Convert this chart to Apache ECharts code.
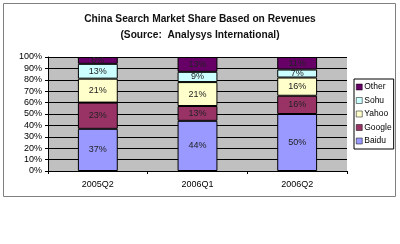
<!DOCTYPE html>
<html><head><meta charset="utf-8">
<script src="https://cdn.jsdelivr.net/npm/echarts@6/dist/echarts.min.js"></script>
<style>html,body{margin:0;padding:0;background:#fff}#c{width:400px;height:244px}</style>
</head><body><div id="c"></div>
<script>
const categories = ['2005Q2', '2006Q1', '2006Q2'];
const baidu = [37, 44, 50];
const google = [23, 13, 16];
const yahoo = [21, 21, 16];
const sohu = [13, 9, 7];
const other = [6, 13, 11];
const yTicks = [0, 10, 20, 30, 40, 50, 60, 70, 80, 90, 100];

const names = ['Baidu', 'Google', 'Yahoo', 'Sohu', 'Other'];
const values = [baidu, google, yahoo, sohu, other];
const colors = ['#9999FF', '#993366', '#FFFFCC', '#CCFFFF', '#660066'];

const chart = echarts.init(document.getElementById('c'));
chart.setOption({
  animation: false,
  textStyle: { fontFamily: 'Liberation Sans, Arial, sans-serif' },
  title: {
    text: 'China Search Market Share Based on Revenues\n(Source:  Analysys International)',
    left: 'center', top: 6,
    textStyle: { fontSize: 10.2, fontWeight: 'bold', color: '#111', lineHeight: 16, fontFamily: 'Liberation Sans, Arial, sans-serif' }
  },
  graphic: [{ type: 'rect', shape: { x: 3.5, y: 3.5, width: 392, height: 193 }, style: { fill: 'none', stroke: '#808080', lineWidth: 1 }, silent: true }],
  legend: {
    orient: 'vertical', left: 354, top: 79,
    data: ['Other', 'Sohu', 'Yahoo', 'Google', 'Baidu'],
    itemWidth: 6, itemHeight: 6, itemGap: 1.5,
    icon: 'rect',
    itemStyle: { borderColor: '#000', borderWidth: 0.5 },
    borderColor: '#000', borderWidth: 1, padding: [2, 2, 2, 2],
    textStyle: { fontSize: 8.5, color: '#000', lineHeight: 12, padding: [0, 0, 0, -3] }
  },
  grid: { left: 48, top: 57, width: 299, height: 114, show: true, backgroundColor: '#C0C0C0', borderWidth: 0 },
  xAxis: {
    type: 'category', data: categories,
    axisLine: { lineStyle: { color: '#000' } },
    axisTick: { show: true, length: 3, lineStyle: { color: '#000' } },
    axisLabel: { fontSize: 9, color: '#000', margin: 9 }
  },
  yAxis: {
    type: 'value', min: 0, max: 100, interval: 10,
    axisLine: { show: true, lineStyle: { color: '#000' } },
    axisTick: { show: true, length: 3, lineStyle: { color: '#000' } },
    axisLabel: { fontSize: 9, color: '#000', margin: 6, formatter: v => yTicks.includes(v) ? v + '%' : '' },
    splitLine: { lineStyle: { color: '#000', width: 1 } }
  },
  series: names.map((n, i) => ({
    name: n, type: 'bar', stack: 'total', barWidth: '40%',
    data: values[i],
    itemStyle: { color: colors[i], borderColor: '#000', borderWidth: 1 },
    label: { show: true, position: 'inside', formatter: '{c}%', fontSize: 9, color: '#222' }
  }))
});
</script></body></html>
